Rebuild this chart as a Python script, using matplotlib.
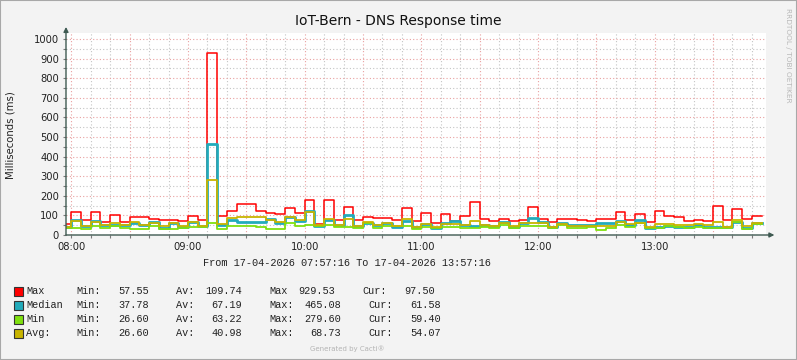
import matplotlib
matplotlib.use('Agg')
import matplotlib.pyplot as plt
import matplotlib.dates as mdates
from matplotlib.patches import Rectangle
from matplotlib.ticker import MultipleLocator, FuncFormatter
import numpy as np
import pandas as pd

# 5 minute samples, first one starts 07:55
start = '2026-04-17 07:55'
view_from = '2026-04-17 07:57:16'
view_to = '2026-04-17 13:57:16'

max_ms = [58, 115, 75, 115, 66, 100, 66, 90, 90, 81, 75, 75, 69, 98, 78, 930,
          95, 120, 158, 158, 120, 112, 107, 137, 112, 181, 58, 181, 77, 141, 75, 90,
          86, 86, 75, 137, 69, 112, 61, 107, 69, 95, 168, 83, 69, 81, 69, 75,
          142, 83, 64, 83, 83, 78, 73, 81, 81, 117, 75, 107, 66, 125, 95, 92,
          71, 75, 71, 146, 75, 131, 81, 97]
median_ms = [41, 78, 44, 71, 53, 53, 53, 63, 53, 68, 37, 63, 41, 64, 44, 465,
             53, 78, 66, 66, 66, 80, 59, 92, 73, 120, 44, 78, 50, 103, 44, 63,
             49, 63, 41, 69, 39, 56, 36, 63, 71, 49, 44, 49, 44, 64, 39, 61,
             86, 66, 39, 59, 53, 53, 53, 63, 63, 69, 53, 78, 38, 41, 44, 41,
             41, 49, 41, 41, 41, 66, 38, 61]
min_ms = [36, 36, 32, 44, 36, 44, 36, 30, 30, 44, 32, 32, 36, 39, 41, 61,
          30, 48, 48, 45, 40, 32, 32, 62, 44, 50, 44, 53, 39, 39, 36, 59,
          36, 44, 44, 44, 32, 39, 36, 39, 39, 36, 36, 39, 36, 53, 36, 47,
          47, 47, 36, 49, 36, 36, 39, 27, 36, 49, 39, 61, 36, 36, 44, 39,
          36, 41, 36, 36, 36, 66, 32, 54]
avg_ms = [41, 69, 44, 64, 49, 63, 49, 64, 53, 59, 47, 63, 47, 64, 47, 280,
          56, 86, 92, 92, 92, 75, 64, 92, 75, 115, 53, 83, 53, 83, 47, 66,
          49, 63, 44, 83, 41, 56, 39, 56, 56, 53, 69, 49, 47, 61, 44, 59,
          61, 61, 41, 56, 47, 47, 47, 47, 47, 64, 56, 63, 41, 56, 56, 49,
          53, 56, 49, 64, 41, 78, 44, 59]

legend_names = ['Max', 'Median', 'Min', 'Avg:']
legend_colors = ['#ff0000', '#22abbb', '#7fe00f', '#c8b400']
stat_min = ['57.55', '37.78', '26.60', '26.60']
stat_av = ['109.74', '67.19', '63.22', '40.98']
stat_max_label = ['Max', 'Max:', 'Max:', 'Max:']
stat_max = ['929.53', '465.08', '279.60', '68.73']
stat_cur = ['97.50', '61.58', '59.40', '54.07']

W, H = 797, 360
fig = plt.figure(figsize=(W / 100, H / 100), dpi=100, facecolor='#f3f3f3')
fig.patches.append(Rectangle((0, 0), 1, 1, transform=fig.transFigure,
                             fill=False, edgecolor='#a8a8a8', lw=1.5))

ax = fig.add_axes([66 / W, 1 - 235 / H, 700 / W, 202 / H])
ax.set_facecolor('white')

edges = pd.date_range(start, periods=len(max_ms) + 1, freq='5min')


def stepped(vals):
    return np.append(vals, vals[-1])


ax.step(edges, stepped(max_ms), where='post', color=legend_colors[0], lw=1.1, zorder=3)
ax.step(edges, stepped(median_ms), where='post', color=legend_colors[1], lw=2.0, zorder=3)
ax.step(edges, stepped(min_ms), where='post', color=legend_colors[2], lw=1.3, zorder=3)
ax.step(edges, stepped(avg_ms), where='post', color=legend_colors[3], lw=1.3, zorder=3)

ax.set_xlim(pd.Timestamp(view_from), pd.Timestamp(view_to))
ax.set_ylim(0, 1031)

# grid like rrdtool: red major, grey minor, both dotted
ax.yaxis.set_major_locator(MultipleLocator(100))
ax.yaxis.set_minor_locator(MultipleLocator(50))
ax.xaxis.set_major_locator(mdates.MinuteLocator(byminute=[0, 30]))
ax.xaxis.set_minor_locator(mdates.MinuteLocator(byminute=range(0, 60, 10)))


def hour_label(x, pos):
    d = mdates.num2date(x)
    return d.strftime('%H:%M') if d.minute == 0 else ''


ax.xaxis.set_major_formatter(FuncFormatter(hour_label))
ax.grid(which='major', color='#e9a0a0', linestyle=(0, (1, 2)), lw=0.8, zorder=0)
ax.grid(which='minor', color='#c4c4c4', linestyle=(0, (1, 2)), lw=0.8, zorder=0)
ax.set_axisbelow(True)

ax.tick_params(which='both', length=2, width=0.8, color='#7a7a7a', labelsize=7.2,
               labelcolor='#222222', pad=3)

for s in ax.spines.values():
    s.set_visible(False)

axis_col = '#3f5a52'
ax.annotate('', xy=(1.012, 0), xytext=(0, 0), xycoords='axes fraction',
            arrowprops=dict(arrowstyle='-|>', color=axis_col, lw=1.0,
                            mutation_scale=7, shrinkA=0, shrinkB=0))
ax.annotate('', xy=(0, 1.03), xytext=(0, 0), xycoords='axes fraction',
            arrowprops=dict(arrowstyle='-|>', color=axis_col, lw=1.0,
                            mutation_scale=7, shrinkA=0, shrinkB=0))

fig.text(398 / W, 1 - 21 / H, 'IoT-Bern - DNS Response time', ha='center', va='center',
         fontsize=10, color='#111111')
fig.text(11 / W, 1 - 135 / H, 'Milliseconds (ms)', rotation=90, ha='center', va='center',
         fontsize=7.3, color='#222222')
fig.text(788 / W, 1 - 55 / H, 'RRDTOOL / TOBI OETIKER', rotation=270, ha='center',
         va='center', fontsize=5.3, color='#b8b8b8')

mono = 'Liberation Mono'
fig.text(347 / W, 1 - 263 / H, 'From 17-04-2026 07:57:16 To 17-04-2026 13:57:16',
         ha='center', va='center', fontsize=7.4, family=mono, color='#222222')

for i, name in enumerate(legend_names):
    yc = 291 + 14 * i
    y = 1 - yc / H
    fig.patches.append(Rectangle((14 / W, 1 - (yc + 4.5) / H), 8.5 / W, 9 / H,
                                 transform=fig.transFigure, facecolor=legend_colors[i],
                                 edgecolor='#333333', lw=0.8))
    shift = 0 if i == 0 else 6
    kw = dict(va='center', fontsize=7.4, family=mono, color='#222222')
    fig.text(26 / W, y, name, ha='left', **kw)
    fig.text(76 / W, y, 'Min:', ha='left', **kw)
    fig.text(149 / W, y, stat_min[i], ha='right', **kw)
    fig.text(176 / W, y, 'Av:', ha='left', **kw)
    fig.text(242 / W, y, stat_av[i], ha='right', **kw)
    fig.text(269 / W, y, stat_max_label[i], ha='left', **kw)
    fig.text((335 + shift) / W, y, stat_max[i], ha='right', **kw)
    fig.text((362 + shift) / W, y, 'Cur:', ha='left', **kw)
    fig.text((435 + shift) / W, y, stat_cur[i], ha='right', **kw)

fig.text(347 / W, 1 - 349 / H, 'Generated by Cacti®', ha='center', va='center',
         fontsize=5, color='#b4b4b4')

plt.savefig('out.png', dpi=100, facecolor=fig.get_facecolor())
plt.close()
